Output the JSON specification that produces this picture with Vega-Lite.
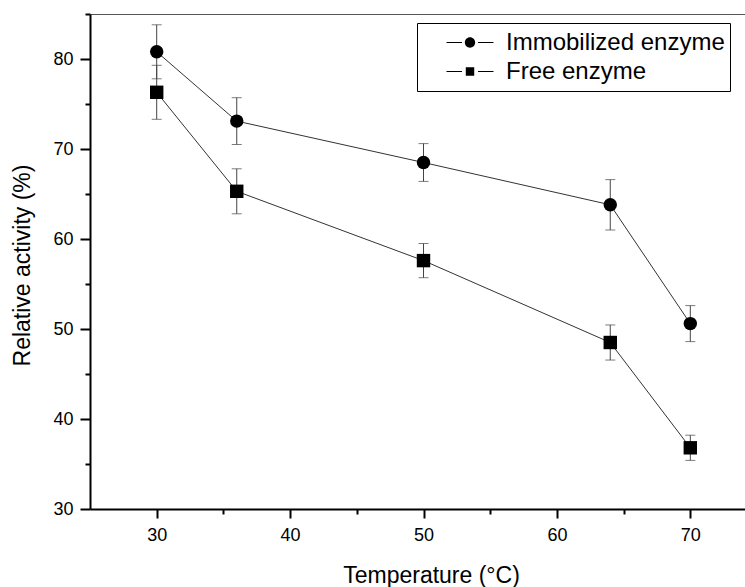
{
  "$schema": "https://vega.github.io/schema/vega-lite/v6.json",
  "width": 655,
  "height": 495,
  "autosize": "none",
  "padding": {"left": 90, "top": 14, "right": 0, "bottom": 78},
  "background": "white",
  "config": {
    "view": {"stroke": null},
    "font": "Liberation Sans",
    "axis": {"grid": false, "domainColor": "black", "tickColor": "black", "labelColor": "black", "titleColor": "black", "labelFont": "Liberation Sans", "titleFont": "Liberation Sans", "titleFontWeight": "normal", "domainWidth": 2, "tickWidth": 2}
  },
  "data": {
    "values": [
      {"series": "Immobilized enzyme", "t": 30, "v": 80.8, "err": 3.0},
      {"series": "Immobilized enzyme", "t": 36, "v": 73.1, "err": 2.6},
      {"series": "Immobilized enzyme", "t": 50, "v": 68.5, "err": 2.1},
      {"series": "Immobilized enzyme", "t": 64, "v": 63.8, "err": 2.8},
      {"series": "Immobilized enzyme", "t": 70, "v": 50.6, "err": 2.0},
      {"series": "Free enzyme", "t": 30, "v": 76.3, "err": 3.0},
      {"series": "Free enzyme", "t": 36, "v": 65.3, "err": 2.5},
      {"series": "Free enzyme", "t": 50, "v": 57.6, "err": 1.9},
      {"series": "Free enzyme", "t": 64, "v": 48.5, "err": 1.95},
      {"series": "Free enzyme", "t": 70, "v": 36.8, "err": 1.4}
    ]
  },
  "resolve": {"axis": {"x": "independent", "y": "independent"}},
  "layer": [
    {
      "mark": {"type": "errorbar", "color": "#444", "thickness": 1, "ticks": {"size": 10, "thickness": 1}},
      "encoding": {
        "x": {"field": "t", "type": "quantitative", "scale": {"domain": [25, 74.1], "nice": false, "zero": false},
          "axis": {"orient": "top", "ticks": false, "labels": false, "domainWidth": 1, "domainColor": "#555", "title": null}},
        "y": {"field": "v", "type": "quantitative", "scale": {"domain": [30, 85], "nice": false, "zero": false}, "axis": null},
        "yError": {"field": "err"}
      }
    },
    {
      "mark": {"type": "line", "color": "#333", "strokeWidth": 1},
      "encoding": {
        "x": {"field": "t", "type": "quantitative",
          "axis": {"orient": "bottom", "values": [30, 40, 50, 60, 70], "tickSize": 9, "labelFontSize": 18, "labelPadding": 8, "title": "Temperature (°C)", "titleFontSize": 23, "titlePadding": 20, "titleX": 341}},
        "y": {"field": "v", "type": "quantitative",
          "axis": {"orient": "left", "values": [30, 40, 50, 60, 70, 80], "tickSize": 10, "labelFontSize": 18, "labelPadding": 7, "title": "Relative activity (%)", "titleFontSize": 23, "titlePadding": 18, "titleY": 251}},
        "detail": {"field": "series"}
      }
    },
    {
      "transform": [{"filter": {"field": "series", "equal": "Immobilized enzyme"}}],
      "mark": {"type": "point", "shape": "circle", "filled": true, "color": "black", "size": 180, "opacity": 1},
      "encoding": {
        "x": {"field": "t", "type": "quantitative",
          "axis": {"orient": "bottom", "values": [35, 45, 55, 65], "tickSize": 5, "labels": false, "domain": false, "title": null}},
        "y": {"field": "v", "type": "quantitative",
          "axis": {"orient": "left", "values": [35, 45, 55, 65, 75, 85], "tickSize": 5, "labels": false, "domain": false, "title": null}}
      }
    },
    {
      "transform": [{"filter": {"field": "series", "equal": "Free enzyme"}}],
      "mark": {"type": "point", "shape": "square", "filled": true, "color": "black", "size": 180, "opacity": 1},
      "encoding": {
        "x": {"field": "t", "type": "quantitative", "axis": null},
        "y": {"field": "v", "type": "quantitative", "axis": null}
      }
    },
    {
      "transform": [{"filter": {"field": "t", "equal": 30}}],
      "mark": {"type": "point", "filled": true, "color": "black", "opacity": 0, "size": 1},
      "encoding": {
        "x": {"field": "t", "type": "quantitative", "axis": null},
        "y": {"field": "v", "type": "quantitative", "axis": null},
        "shape": {"field": "series", "type": "nominal",
          "scale": {"domain": ["Immobilized enzyme", "Free enzyme"], "range": ["M-1,-0.022H-0.34V0.022H-1ZM0.34,-0.022H1V0.022H0.34ZM-0.22,0A0.22,0.22,0,1,0,0.22,0A0.22,0.22,0,1,0,-0.22,0Z", "M-1,-0.022H-0.34V0.022H-1ZM0.34,-0.022H1V0.022H0.34ZM-0.18,-0.18H0.18V0.18H-0.18Z"]},
          "legend": {
            "title": null,
            "orient": "none",
            "legendX": 327,
            "legendY": 9,
            "padding": 5,
            "strokeColor": "black",
            "fillColor": "white",
            "symbolSize": 2209,
            "symbolStrokeWidth": 1,
            "symbolOpacity": 1,
            "symbolFillColor": "black",
            "symbolStrokeColor": "black",
            "symbolOffset": 24,
            "clipHeight": 29,
            "rowPadding": 0,
            "labelOffset": 12,
            "labelFontSize": 24,
            "labelFont": "Liberation Sans",
            "labelColor": "black",
            "labelLimit": 400
          }
        }
      }
    }
  ]
}
